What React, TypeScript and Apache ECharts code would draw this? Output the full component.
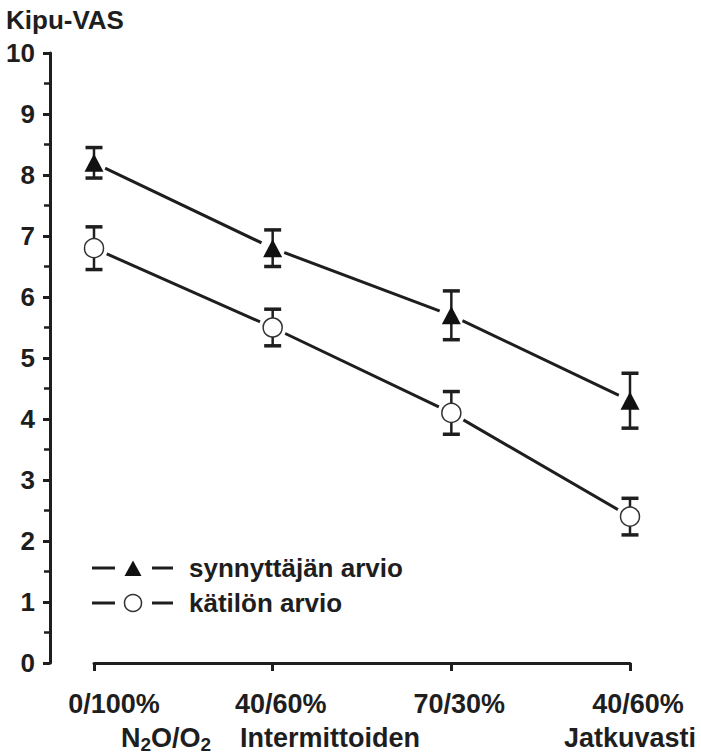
import React, { useEffect, useRef } from 'react';
import * as echarts from 'echarts';

const categories = ['0/100%', '40/60%', '70/30%', '40/60%'];
const seriesNames = ['synnyttäjän arvio', 'kätilön arvio'];
const motherMean = [8.2, 6.8, 5.7, 4.3];
const motherLow = [7.95, 6.5, 5.3, 3.85];
const motherHigh = [8.45, 7.1, 6.1, 4.75];
const midwifeMean = [6.8, 5.5, 4.1, 2.4];
const midwifeLow = [6.45, 5.2, 3.75, 2.1];
const midwifeHigh = [7.15, 5.8, 4.45, 2.7];
const yTitle = 'Kipu-VAS';

const FONT = '"Liberation Sans", Arial, sans-serif';
const INK = '#1e1e1e';

export default function App() {
  const ref = useRef<HTMLDivElement>(null);
  useEffect(() => {
    if (!ref.current) return;
    const chart = echarts.init(ref.current, null, { renderer: 'svg' });

    const errData = (lo: number[], hi: number[]) => lo.map((l, i) => [i, l, hi[i]]);
    const renderErr = (params: any, api: any) => {
      const x = api.value(0);
      const pLo = api.coord([x, api.value(1)]);
      const pHi = api.coord([x, api.value(2)]);
      const cx = pLo[0];
      const hw = 8.5;
      return {
        type: 'group',
        children: [
          { type: 'line', shape: { x1: cx, y1: pHi[1], x2: cx, y2: pLo[1] }, style: { stroke: INK, lineWidth: 2.5 } },
          { type: 'line', shape: { x1: cx - hw, y1: pHi[1], x2: cx + hw, y2: pHi[1] }, style: { stroke: INK, lineWidth: 3.5 } },
          { type: 'line', shape: { x1: cx - hw, y1: pLo[1], x2: cx + hw, y2: pLo[1] }, style: { stroke: INK, lineWidth: 3.5 } },
        ],
      };
    };

    const legendRow = (y: number, kind: 'tri' | 'circ', label: string) => [
      { type: 'line', shape: { x1: 92, y1: y, x2: 115, y2: y }, style: { stroke: INK, lineWidth: 3 } },
      kind === 'tri'
        ? { type: 'polygon', shape: { points: [[133, y - 7.5], [124.5, y + 8], [141.5, y + 8]] }, style: { fill: '#111' } }
        : { type: 'circle', shape: { cx: 133, cy: y, r: 8.5 }, style: { fill: '#fff', stroke: '#333', lineWidth: 1.5 } },
      { type: 'line', shape: { x1: 152, y1: y, x2: 173, y2: y }, style: { stroke: INK, lineWidth: 3 } },
      {
        type: 'text', x: 189, y: y,
        style: { text: label, font: `bold 26px ${FONT}`, fill: INK, verticalAlign: 'middle' },
      },
    ];

    chart.setOption({
      animation: false,
      backgroundColor: '#fff',
      title: {
        text: yTitle, left: 6, top: 7, padding: 0,
        textStyle: { fontSize: 26, fontWeight: 'bold', fontFamily: FONT, color: INK },
      },
      grid: { left: 94, right: 71, top: 53, bottom: 91, containLabel: false },
      xAxis: {
        type: 'category',
        data: categories,
        boundaryGap: false,
        axisLine: { show: true, lineStyle: { color: INK, width: 3 } },
        axisTick: { show: true, length: 8, inside: false, lineStyle: { color: INK, width: 3 } },
        splitLine: { show: false },
        axisLabel: {
          interval: 0,
          margin: 27,
          color: INK,
          fontFamily: FONT,
          fontWeight: 'bold',
          fontSize: 27,
          formatter: (v: string, i: number) => (i === 0 ? `{a|${v}}` : `{b|${v}}`),
          rich: {
            a: { padding: [0, 0, 0, 40], fontSize: 27, fontWeight: 'bold', fontFamily: FONT, color: INK },
            b: { padding: [0, 0, 0, 16], fontSize: 27, fontWeight: 'bold', fontFamily: FONT, color: INK },
          },
        },
      },
      yAxis: {
        type: 'value',
        min: 0,
        max: 10,
        interval: 1,
        offset: 44,
        axisLine: { show: true, lineStyle: { color: INK, width: 3 } },
        axisTick: { show: true, length: 7, inside: false, lineStyle: { color: INK, width: 3 } },
        minorTick: { show: true, splitNumber: 2, length: 6, lineStyle: { color: INK, width: 2.5 } },
        splitLine: { show: false },
        minorSplitLine: { show: false },
        axisLabel: { margin: 15, color: INK, fontFamily: FONT, fontWeight: 'bold', fontSize: 26 },
      },
      graphic: [
        ...legendRow(568, 'tri', seriesNames[0]),
        ...legendRow(603, 'circ', seriesNames[1]),
        {
          type: 'text', x: 121, y: 738,
          style: {
            text: '{n|N}{s|2}{n|O/O}{s|2}',
            verticalAlign: 'middle',
            rich: {
              n: { font: `bold 27px ${FONT}`, fill: INK },
              s: { font: `bold 19px ${FONT}`, fill: INK, padding: [12, 0, 0, 0] },
            },
          },
        },
        {
          type: 'text', x: 240, y: 738,
          style: { text: 'Intermittoiden', font: `bold 27px ${FONT}`, fill: INK, verticalAlign: 'middle' },
        },
        {
          type: 'text', x: 564, y: 738,
          style: { text: 'Jatkuvasti', font: `bold 27px ${FONT}`, fill: INK, verticalAlign: 'middle' },
        },
      ],
      series: [
        { name: seriesNames[0] + ' line', type: 'line', data: motherMean, showSymbol: false, symbol: 'none', lineStyle: { color: INK, width: 3 }, z: 2, silent: true },
        { name: seriesNames[1] + ' line', type: 'line', data: midwifeMean, showSymbol: false, symbol: 'none', lineStyle: { color: INK, width: 3 }, z: 2, silent: true },
        { type: 'scatter', data: motherMean, symbol: 'circle', symbolSize: 25, itemStyle: { color: '#fff', opacity: 1 }, z: 3, silent: true },
        { type: 'scatter', data: midwifeMean, symbol: 'circle', symbolSize: 28, itemStyle: { color: '#fff', opacity: 1 }, z: 3, silent: true },
        { type: 'custom', data: errData(motherLow, motherHigh), renderItem: renderErr, encode: { x: 0, y: [1, 2] }, z: 4, silent: true },
        { type: 'custom', data: errData(midwifeLow, midwifeHigh), renderItem: renderErr, encode: { x: 0, y: [1, 2] }, z: 4, silent: true },
        { name: seriesNames[0], type: 'scatter', data: motherMean, symbol: 'triangle', symbolSize: [19, 18], itemStyle: { color: '#111', opacity: 1 }, z: 5 },
        { name: seriesNames[1], type: 'scatter', data: midwifeMean, symbol: 'circle', symbolSize: 19, itemStyle: { color: '#fff', borderColor: '#333', borderWidth: 1.5, opacity: 1 }, z: 5 },
      ],
    });
    return () => chart.dispose();
  }, []);
  return <div ref={ref} style={{ position: 'absolute', left: 0, top: 0, width: 701, height: 754 }} />;
}
